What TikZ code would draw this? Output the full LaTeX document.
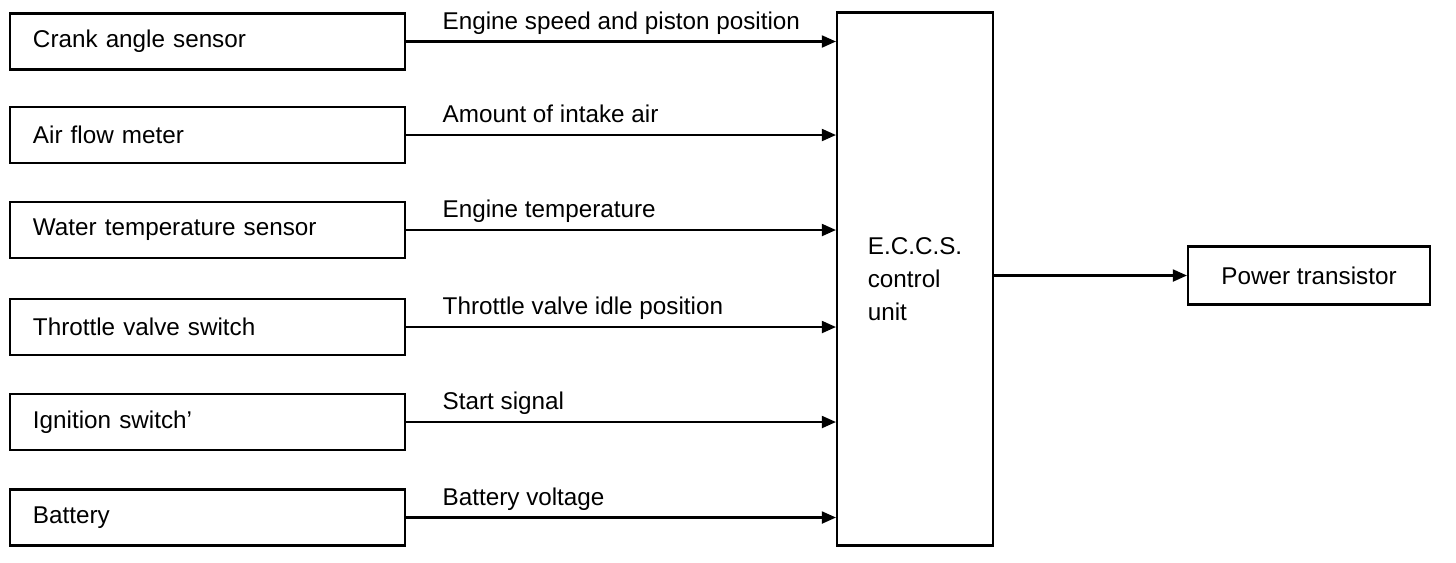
\documentclass[tikz,border=0pt]{standalone}
\usepackage{fontspec}
\setmainfont{Liberation Sans}
\usetikzlibrary{arrows.meta}

\tikzset{
  blockline/.style={draw=black,line width=0.6pt},
  sensorbox/.style={blockline,text width=3.49cm,inner xsep=0.23cm,align=left,minimum height=0.56cm},
  sigline/.style={black,line width=0.6pt,-{Triangle[length=4pt,width=3.4pt]}},
  siglabel/.style={anchor=base west,inner sep=0pt}
}

\begin{document}
\begin{tikzpicture}[font=\fontsize{6.9}{9.4}\selectfont]
  \useasboundingbox (0,0) rectangle (14.56,-5.62);

  % ---- control unit and output ----
  \node[blockline,minimum width=1.56cm,minimum height=5.33cm,align=left] (ecu) at (9.15,-2.79)
        {E.C.C.S.\\control\\unit};
  \node[blockline,minimum width=2.42cm,minimum height=0.58cm] (ptr) at (13.09,-2.755) {Power transistor};
  \draw[sigline] (ecu.east |- ptr.west) -- (ptr.west);

  % ---- sensors, signal lines and their labels ----
  \foreach \i/\y/\txt/\sig in {1/-0.415/Crank angle sensor/Engine speed and piston position,
                               2/-1.35/Air flow meter/Amount of intake air,
                               3/-2.30/Water temperature sensor/Engine temperature,
                               4/-3.27/Throttle valve switch/Throttle valve idle position,
                               5/-4.22/Ignition switch\textquoteright/Start signal,
                               6/-5.175/Battery/Battery voltage}{%
    \node[sensorbox] (sn\i) at (2.075,\y) {\txt};
    \draw[sigline] (sn\i.east) -- (sn\i.east -| ecu.west);
    \node[siglabel] (sig\i) at (4.42,\y+0.125) {\sig};
  }
\end{tikzpicture}
\end{document}
